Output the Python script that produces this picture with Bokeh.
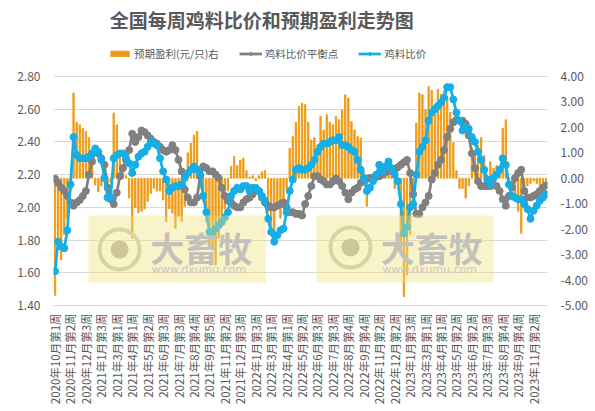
import numpy as np
from bokeh.plotting import figure
from bokeh.models import (Range1d, LinearAxis, FixedTicker, PrintfTickFormatter, Legend,
                          LegendItem, BoxAnnotation, Label, ColumnDataSource)
from bokeh.embed import file_html
from bokeh.resources import INLINE

title_text = "全国每周鸡料比价和预期盈利走势图"

tick_labels = ["2020年10月第1周", "2020年11月第2周", "2020年12月第3周", "2021年1月第3周",
               "2021年3月第1周", "2021年4月第1周", "2021年5月第2周", "2021年6月第3周",
               "2021年7月第3周", "2021年8月第4周", "2021年9月第5周", "2021年11月第2周",
               "2021年12月第3周", "2022年1月第3周", "2022年3月第1周", "2022年4月第1周",
               "2022年5月第2周", "2022年6月第3周", "2022年7月第3周", "2022年8月第4周",
               "2022年9月第4周", "2022年11月第2周", "2022年12月第2周", "2023年1月第3周",
               "2023年3月第1周", "2023年4月第1周", "2023年5月第2周", "2023年6月第2周",
               "2023年7月第3周", "2023年8月第4周", "2023年9月第4周", "2023年11月第2周"]

# 鸡料比价 (left axis)
ratio = [1.61, 1.79, 1.76, 1.75, 1.86, 2.14, 2.43, 2.32, 2.30, 2.30,
         2.30, 2.31, 2.33, 2.36, 2.34, 2.29, 2.18, 2.06, 2.06, 2.30,
         2.32, 2.33, 2.33, 2.30, 2.27, 2.21, 2.26, 2.31, 2.33, 2.34,
         2.37, 2.40, 2.39, 2.38, 2.30, 2.22, 2.17, 2.10, 2.12, 2.13,
         2.13, 2.14, 2.18, 2.21, 2.23, 2.25, 2.23, 2.20, 2.07, 1.97,
         1.85, 1.84, 1.87, 1.89, 1.91, 1.94, 1.97, 2.07, 2.10, 2.12,
         2.11, 2.13, 2.13, 2.10, 2.12, 2.12, 2.10, 2.07, 2.04, 1.93,
         1.85, 1.79, 1.83, 1.86, 1.87, 1.97, 2.10, 2.17, 2.23, 2.24,
         2.23, 2.23, 2.24, 2.26, 2.29, 2.34, 2.37, 2.39, 2.39, 2.40,
         2.41, 2.41, 2.43, 2.38, 2.38, 2.37, 2.35, 2.34, 2.29, 2.23,
         2.18, 2.10, 2.12, 2.16, 2.20, 2.26, 2.22, 2.25, 2.28, 2.24,
         2.20, 2.16, 2.02, 1.84, 1.88, 2.00, 2.02, 2.20, 2.34, 2.37,
         2.41, 2.53, 2.58, 2.60, 2.62, 2.64, 2.67, 2.735, 2.735, 2.66,
         2.58, 2.53, 2.47, 2.49, 2.48, 2.43, 2.40, 2.34, 2.29, 2.23,
         2.17, 2.14, 2.18, 2.20, 2.23, 2.30, 2.26, 2.14, 2.07, 2.06,
         2.05, 2.05, 2.02, 1.99, 1.93, 1.98, 2.01, 2.04, 2.06, 2.08]

# 鸡料比价平衡点 (left axis)
balance = [2.175, 2.15, 2.12, 2.10, 2.07, 2.03, 2.01, 2.03, 2.045, 2.07,
           2.10, 2.20, 2.28, 2.34, 2.33, 2.30, 2.26, 2.12, 2.05, 2.02,
           2.09, 2.19, 2.24, 2.29, 2.35, 2.45, 2.40, 2.43, 2.47, 2.46,
           2.44, 2.42, 2.40, 2.39, 2.37, 2.35, 2.34, 2.35, 2.38, 2.35,
           2.29, 2.22, 2.11, 2.06, 2.03, 2.03, 2.06, 2.19, 2.25, 2.24,
           2.22, 2.22, 2.20, 2.18, 2.12, 2.07, 2.04, 2.03, 2.01, 2.00,
           2.00, 2.03, 2.05, 2.06, 2.08, 2.11, 2.10, 2.06, 2.03, 2.01,
           2.00, 2.00, 2.01, 2.02, 2.03, 2.00, 1.97, 1.97, 1.96, 1.96,
           1.95, 2.02, 2.07, 2.13, 2.19, 2.19, 2.17, 2.16, 2.14, 2.14,
           2.16, 2.175, 2.16, 2.13, 2.09, 2.05, 2.09, 2.11, 2.12, 2.15,
           2.16, 2.175, 2.18, 2.18, 2.185, 2.19, 2.20, 2.215, 2.22, 2.23,
           2.23, 2.245, 2.26, 2.275, 2.29, 2.21, 2.08, 1.96, 1.96, 2.00,
           2.03, 2.07, 2.17, 2.21, 2.26, 2.29, 2.35, 2.43, 2.48, 2.52,
           2.535, 2.53, 2.53, 2.51, 2.44, 2.33, 2.24, 2.16, 2.13, 2.13,
           2.13, 2.13, 2.14, 2.13, 2.10, 2.05, 2.01, 2.07, 2.12, 2.18,
           2.21, 2.23, 2.10, 2.06, 2.06, 2.07, 2.08, 2.10, 2.12, 2.135]

# 预期盈利(元/只) (right axis)
profit = [-4.6, -2.6, -3.2, -2.2, -1.6, -0.5, 3.35, 2.2, 2.1, 1.95,
          1.84, 1.6, 0.59, -0.26, -0.52, -0.3, -0.1, -0.2, -0.15, 2.56,
          2.1, 0.86, 0.53, 0.1, -0.78, -2.35, -1.15, -1.35, -1.3, -1.2,
          -0.9, -0.6, -0.4, -0.5, -0.5, -0.85, -1.7, -1.2, -1.37, -1.96,
          -1.5, -1.7, -1.1, 1.0, 1.38, 1.7, 1.84, -0.39, -0.9, -1.7,
          -2.6, -2.75, -3.4, -2.36, -1.8, -1.2, -0.5, 0.47, 0.86, 0.5,
          0.72, 0.79, 0.3, 0.05, 0.1, -0.1, 0.1, 0.25, 0.3, -1.3,
          -1.96, -2.2, -1.2, -1.57, -1.1, -0.4, 1.18, 1.64, 2.2, 2.82,
          2.95, 2.89, 2.2, 1.5, 1.6, 1.3, 2.43, 1.9, 2.5, 2.2,
          2.1, 2.43, 2.3, 2.69, 3.28, 3.15, 2.23, 1.9, 1.64, 1.58,
          0.26, -1.1, -0.1, 0.1, 0.2, 0.5, 0.3, 0.45, 0.65, 0.1,
          -0.4, -0.2, -3.0, -4.65, -3.8, -2.2, -1.2, 2.17, 3.35, 3.28,
          2.7, 3.6, 3.45, 2.9, 3.5, 3.3, 3.45, 3.2, 2.6, 1.4,
          0.3, -0.4, -0.4, -0.78, -0.3, 1.18, 1.0, 1.3, 1.6, 0.9,
          0.1, 0.65, 0.4, 0.5, 0.3, 1.97, 2.3, -0.3, -0.2, -0.9,
          -1.3, -2.16, -0.6, -0.3, -0.2, -0.1, -0.2, -0.3, -0.2, -0.1]

left_ticks = [1.4, 1.6, 1.8, 2.0, 2.2, 2.4, 2.6, 2.8]
right_ticks = [-5, -4, -3, -2, -1, 0, 1, 2, 3, 4]

N = len(ratio)
xs = list(range(N))
src = ColumnDataSource(dict(x=xs, ratio=ratio, balance=balance, profit=profit))

FONT = "Noto Sans CJK SC"
TXT = "#595959"

# head-room above the top tick: title and legend sit inside the frame
HEAD = 0.4646
left_span = left_ticks[-1] - left_ticks[0]
right_span = right_ticks[-1] - right_ticks[0]
left_range = Range1d(left_ticks[0], left_ticks[-1] + HEAD)
right_range = Range1d(right_ticks[0], right_ticks[-1] + HEAD * right_span / left_span)

p = figure(width=595, height=411, x_range=Range1d(-0.5, N - 0.5), y_range=left_range,
           output_backend="svg", toolbar_location=None, title=None,
           min_border_left=53, min_border_right=48, min_border_top=0, min_border_bottom=106)
p.outline_line_color = None
p.background_fill_color = "white"
p.border_fill_color = "white"

# axes
p.yaxis.ticker = FixedTicker(ticks=left_ticks)
p.yaxis.formatter = PrintfTickFormatter(format="%.2f")
p.extra_y_ranges = {"right": right_range}
ax_r = LinearAxis(y_range_name="right", ticker=FixedTicker(ticks=right_ticks),
                  formatter=PrintfTickFormatter(format="%.2f"))
p.add_layout(ax_r, "right")

p.xaxis.ticker = FixedTicker(ticks=[5 * k for k in range(len(tick_labels))])
p.xaxis.major_label_overrides = {5 * k: lab for k, lab in enumerate(tick_labels)}
p.xaxis.major_label_orientation = np.pi / 2

for ax in [p.yaxis[0], ax_r]:
    ax.axis_line_color = None
    ax.major_label_standoff = 13
for ax in [p.yaxis[0], ax_r, p.xaxis[0]]:
    ax.major_tick_line_color = None
    ax.minor_tick_line_color = None
    ax.major_tick_out = 0
    ax.major_tick_in = 0
    ax.major_label_text_font = FONT
    ax.major_label_text_color = TXT
    ax.major_label_text_font_size = "12px"
p.xaxis.axis_line_color = "#D9D9D9"
p.xaxis.major_label_text_font_size = "11.5px"
p.xaxis.major_label_standoff = 8

p.xgrid.visible = False
p.ygrid.grid_line_color = "#D9D9D9"

# data
bars = p.vbar(x="x", top="profit", bottom=0, width=0.42, color="#EE9C18",
              y_range_name="right", source=src)
gl = p.line("x", "balance", color="#808080", line_width=2.75, source=src)
gs = p.scatter("x", "balance", size=7, color="#808080", source=src)
bl = p.line("x", "ratio", color="#16AEE6", line_width=2.75, source=src)
bs = p.scatter("x", "ratio", size=7, color="#16AEE6", source=src)

# watermark (decoration)
wm_boxes = [(10.8, 68.2), (84.7, 142.0)]
wm_logo_x = [20.9, 95.7]
wm_logo_y = [1.742, 1.755]
p.scatter(wm_logo_x, wm_logo_y, size=40, fill_color=None, line_color="#C8C8C0", line_width=4)
p.scatter(wm_logo_x, wm_logo_y, size=18, fill_color="#B4B4AC", line_color=None)
for (l, r) in wm_boxes:
    p.add_layout(BoxAnnotation(left=l, right=r, bottom=1.54, top=1.95,
                               fill_color="#F0E27A", fill_alpha=0.4, line_color=None))
for lx in [30.8, 105.5]:
    p.add_layout(Label(x=lx, y=1.755, text="大畜牧", text_font=FONT, text_font_size="34px",
                       text_font_style="bold", text_color="#C2C2BA", text_baseline="middle"))
    p.add_layout(Label(x=lx + 0.5, y=1.623, text="www.dxumu.com", text_font="DejaVu Sans",
                       text_font_size="11px", text_color="#C8C8C0", text_baseline="middle"))

# chart title (placed in the head-room at the top of the frame)
p.add_layout(Label(x=17.7, y=3.151, text=title_text, text_font=FONT, text_font_size="19px",
                   text_font_style="bold", text_color=TXT, text_baseline="middle",
                   text_align="left"))

legend = Legend(items=[LegendItem(label="预期盈利(元/只)右", renderers=[bars]),
                       LegendItem(label="鸡料比价平衡点", renderers=[gl, gs]),
                       LegendItem(label="鸡料比价", renderers=[bl, bs])],
                orientation="horizontal", location=(55, 244),
                label_text_font=FONT, label_text_font_size="10.5px", label_text_color=TXT,
                glyph_width=23, glyph_height=7, spacing=20, label_standoff=3,
                label_height=14, border_line_color=None, background_fill_alpha=0,
                margin=0, padding=0)
p.add_layout(legend)

open("out.html", "w").write(file_html(p, INLINE))
